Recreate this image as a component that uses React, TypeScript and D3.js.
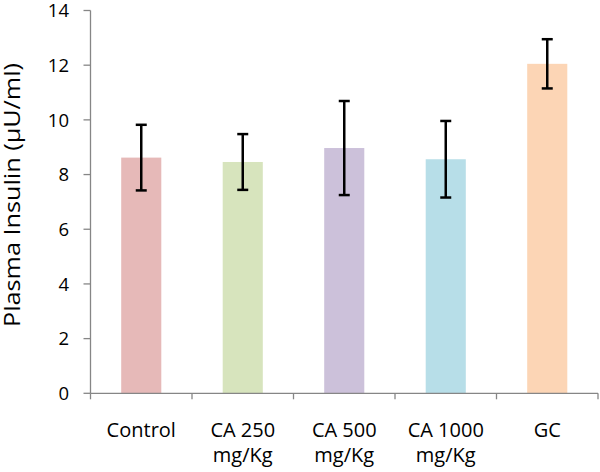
import React from "react";
import * as d3 from "d3";

const categories = ["Control", "CA 250\nmg/Kg", "CA 500\nmg/Kg", "CA 1000\nmg/Kg", "GC"];
const means = [8.62, 8.46, 8.97, 8.56, 12.05];
const errors = [1.2, 1.02, 1.72, 1.4, 0.9];
const colors = ["#E6B9B8", "#D7E4BD", "#CCC1DA", "#B7DEE8", "#FCD5B5"];
const yTicks = [0, 2, 4, 6, 8, 10, 12, 14];
const yTitle = "Plasma Insulin (μU/ml)";

const W = 600, H = 472;
const left = 90.5, right = 598, top = 10.5, bottom = 393.3;
const font = "Open Sans, sans-serif";
const axisColor = "#868686";

export default function App() {
  const x = d3.scaleBand().domain(categories).range([left, right]).paddingInner(0).paddingOuter(0);
  const y = d3.scaleLinear().domain([0, 14]).range([bottom, top]);
  const bw = x.bandwidth() * 0.395;
  const boundaries = d3.range(categories.length + 1).map((i) => left + i * x.bandwidth());
  return (
    <svg width={W} height={H} style={{ position: "absolute", left: 0, top: 0 }}>
      <rect width={W} height={H} fill="#fff" />
      {categories.map((c, i) => {
        const cx = (x(c) as number) + x.bandwidth() / 2;
        return (
          <rect key={c} x={cx - bw / 2} y={y(means[i])} width={bw} height={y(0) - y(means[i])} fill={colors[i]} />
        );
      })}
      {/* y axis */}
      <line x1={left} x2={left} y1={top} y2={bottom} stroke={axisColor} strokeWidth={1.3} />
      {yTicks.map((t) => (
        <g key={t}>
          <line x1={left - 7} x2={left} y1={y(t)} y2={y(t)} stroke={axisColor} strokeWidth={1.3} />
          <text x={69} y={y(t)} dy="0.36em" textAnchor="end" fontFamily={font} fontSize={18.5} fill="#000">{t}</text>
        </g>
      ))}
      {/* x axis */}
      <line x1={left} x2={right} y1={bottom} y2={bottom} stroke={axisColor} strokeWidth={1.3} />
      {boundaries.map((b, i) => (
        <line key={i} x1={b} x2={b} y1={bottom} y2={bottom + 6} stroke={axisColor} strokeWidth={1.3} />
      ))}
      {categories.map((c) => {
        const cx = (x(c) as number) + x.bandwidth() / 2;
        const lines = c.split("\n");
        return (
          <text key={c} x={cx} y={437} textAnchor="middle" fontFamily={font} fontSize={20} fill="#000">
            {lines.map((l, j) => (
              <tspan key={j} x={cx} dy={j === 0 ? 0 : 25}>{l}</tspan>
            ))}
          </text>
        );
      })}
      {/* error bars */}
      {categories.map((c, i) => {
        const cx = (x(c) as number) + x.bandwidth() / 2;
        const y1 = y(means[i] + errors[i]);
        const y2 = y(means[i] - errors[i]);
        return (
          <g key={c} stroke="#000" strokeWidth={2.5}>
            <line x1={cx} x2={cx} y1={y1} y2={y2} />
            <line x1={cx - 5.5} x2={cx + 5.5} y1={y1} y2={y1} />
            <line x1={cx - 5.5} x2={cx + 5.5} y1={y2} y2={y2} />
          </g>
        );
      })}
      <text
        transform={`translate(20,195) rotate(-90)`}
        textAnchor="middle"
        fontFamily={font}
        fontSize={21}
        textLength={264}
        lengthAdjust="spacingAndGlyphs"
        fill="#000"
      >
        {yTitle}
      </text>
    </svg>
  );
}
